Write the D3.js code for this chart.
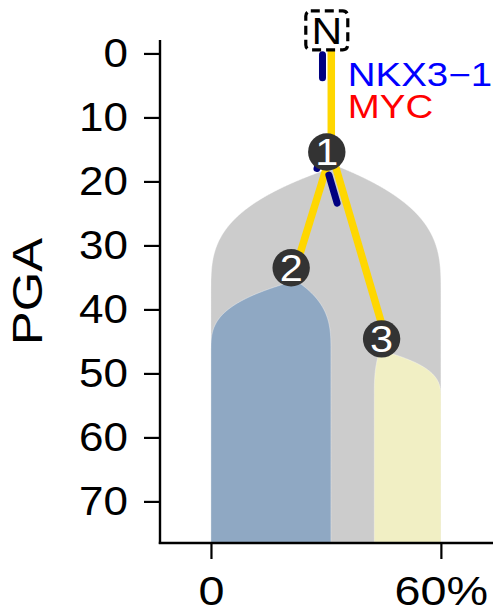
<!DOCTYPE html>
<html>
<head>
<meta charset="utf-8">
<script src="https://cdn.jsdelivr.net/npm/d3@7"></script>
<style>
  html, body { margin: 0; padding: 0; background: #fff; }
  svg { display: block; }
  text { font-family: "Liberation Sans", Arial, Helvetica, sans-serif; }
</style>
</head>
<body>
<svg id="chart" width="493" height="613"></svg>
<script>
// ---------------- data ----------------
// clones (fish-plot shapes): x in % of cells, y in PGA
const cloneNames   = ["1", "2", "3"];
const cloneColors  = ["#cccccc", "#8fa8c3", "#f1efc4"];
const cloneLeft    = [0, 0, 42.6];
const cloneRight   = [60, 31.3, 60];
const cloneApexX   = [32.9, 22.2, 44.1];
const cloneTopPGA  = [17.6, 35.5, 46.4];
const cloneFullPGA = [37.0, 46.4, 54.0];

// phylogenetic tree
const nodeNames   = ["N", "1", "2", "3"];
const nodeX       = [31.4, 31.4, 22.1, 45.7];
const nodePGA     = [-3.6, 15.4, 33.5, 44.6];
const nodeParent  = [null, "N", "1", "1"];

// driver mutation marks along branches (child node, fraction start/end)
const mutBranch   = ["1", "2", "3"];
const mutFrom     = [0.20, 0.00, 0.11];
const mutTo       = [0.39, 0.165, 0.26];

// gene labels on trunk
const geneNames   = ["NKX3\u22121", "MYC"];
const geneColors  = ["#0000ff", "#ff0000"];

// axes
const yTicks      = [0, 10, 20, 30, 40, 50, 60, 70];
const xTicks      = [0, 60];
const xTickLabels = ["0", "60%"];
const yLabel      = "PGA";

// ---------------- layout ----------------
const W = 493, H = 613;
const svg = d3.select("#chart");
const x = d3.scaleLinear().domain([-13.3, 73.6]).range([160, 493]);
const y = d3.scaleLinear().domain([-2.1, 76.5]).range([40, 543]);
const SX = 1.18;          // horizontal glyph widening
const labelShift = -4.5;  // node glyphs offset

// ---------------- clone shapes ----------------
const ease = d3.easeCubicOut;
cloneNames.forEach((name, i) => {
  const top = cloneTopPGA[i], full = cloneFullPGA[i], bottom = y.domain()[1];
  const samples = d3.range(top, bottom, 0.05).concat([bottom]);
  const frac = p => p >= full ? 1 : ease((p - top) / (full - top));
  const area = d3.area()
    .y(p => y(p))
    .x0(p => x(cloneApexX[i] + (cloneLeft[i] - cloneApexX[i]) * frac(p)))
    .x1(p => x(cloneApexX[i] + (cloneRight[i] - cloneApexX[i]) * frac(p)));
  svg.append("path")
    .attr("d", area(samples))
    .attr("fill", cloneColors[i])
    .attr("stroke", "#ffffff")
    .attr("stroke-width", 0.6)
    .attr("stroke-opacity", 0.6);
});

// ---------------- axes ----------------
const yAxis = d3.axisLeft(y).tickValues(yTicks).tickSize(16).tickSizeOuter(0).tickPadding(16);
const xAxis = d3.axisBottom(x).tickValues(xTicks).tickSize(16).tickSizeOuter(0).tickPadding(16.5)
  .tickFormat((d, i) => xTickLabels[i]);

const gy = svg.append("g").attr("transform", `translate(${x.range()[0]},0)`).call(yAxis);
const gx = svg.append("g").attr("transform", `translate(0,${y.range()[1]})`).call(xAxis);
[gy, gx].forEach(g => {
  g.select(".domain").attr("stroke", "#000").attr("stroke-width", 2.4);
  g.selectAll(".tick line").attr("stroke", "#000").attr("stroke-width", 2.2);
});
gy.select(".domain").attr("d", `M0,${y.range()[0]}V${y.range()[1] + 1}`);
gx.select(".domain").attr("d", `M${x.range()[0] - 1.2},0H${x.range()[1]}`);

gy.selectAll(".tick text")
  .attr("font-size", 40).attr("fill", "#000")
  .attr("font-family", "Liberation Sans, Arial, sans-serif")
  .each(function () {
    const t = d3.select(this);
    const tx = +t.attr("x");
    t.attr("x", tx / 1.1).attr("transform", "scale(1.1,1)");
  });
gx.selectAll(".tick text")
  .attr("font-size", 41).attr("fill", "#000")
  .attr("font-family", "Liberation Sans, Arial, sans-serif")
  .attr("transform", "scale(1.14,1)");

svg.append("text")
  .attr("transform", `translate(41.7,${(y.range()[0] + y.range()[1]) / 2}) rotate(-90) scale(1.21,1)`)
  .attr("text-anchor", "middle")
  .attr("font-size", 42)
  .text(yLabel);

// ---------------- tree ----------------
const nodes = nodeNames.map((n, i) => ({ name: n, px: x(nodeX[i]), py: y(nodePGA[i]), parent: nodeParent[i] }));
const byName = Object.fromEntries(nodes.map(n => [n.name, n]));

// branches
nodes.filter(n => n.parent).forEach(n => {
  const p = byName[n.parent];
  svg.append("line")
    .attr("x1", p.px).attr("y1", p.py).attr("x2", n.px).attr("y2", n.py)
    .attr("stroke", "#ffd700").attr("stroke-width", 7.5);
});

// mutation marks (parallel, offset to the left side)
mutBranch.forEach((b, i) => {
  const c = byName[b], p = byName[c.parent];
  const dx = c.px - p.px, dy = c.py - p.py, len = Math.hypot(dx, dy);
  const ux = dx / len, uy = dy / len;
  // normal pointing to screen-left
  let nx = -uy, ny = ux;
  if (nx > 0) { nx = -nx; ny = -ny; }
  const off = 8.8;
  svg.append("line")
    .attr("x1", p.px + ux * len * mutFrom[i] + nx * off)
    .attr("y1", p.py + uy * len * mutFrom[i] + ny * off)
    .attr("x2", p.px + ux * len * mutTo[i] + nx * off)
    .attr("y2", p.py + uy * len * mutTo[i] + ny * off)
    .attr("stroke", "#000080").attr("stroke-width", 7).attr("stroke-linecap", "round");
});

// gene labels next to trunk
const trunk = byName["N"];
geneNames.forEach((g, i) => {
  svg.append("text")
    .attr("transform", `translate(${trunk.px + 16.5},${trunk.py + 56 + i * 31.7}) scale(${SX},1)`)
    .attr("font-size", 32.6)
    .attr("fill", geneColors[i])
    .text(g);
});

// node glyphs
nodes.forEach(n => {
  const cx = n.px + labelShift, cy = n.py;
  if (n.name === "N") {
    svg.append("rect")
      .attr("x", cx - 21).attr("y", cy - 19.5).attr("width", 42).attr("height", 39)
      .attr("rx", 5).attr("fill", "#fff")
      .attr("stroke", "#000").attr("stroke-width", 3.2).attr("stroke-dasharray", "9,5");
    svg.append("text")
      .attr("transform", `translate(${cx},${cy}) scale(1.15,1)`)
      .attr("text-anchor", "middle").attr("dy", "0.36em")
      .attr("font-size", 37).attr("fill", "#000")
      .text(n.name);
  } else {
    svg.append("circle").attr("cx", cx).attr("cy", cy).attr("r", 18.7).attr("fill", "#333333");
    svg.append("text")
      .attr("transform", `translate(${cx},${cy}) scale(1.12,1)`)
      .attr("text-anchor", "middle").attr("dy", "0.36em")
      .attr("font-size", 37).attr("fill", "#fff")
      .text(n.name);
  }
});
</script>
</body>
</html>
